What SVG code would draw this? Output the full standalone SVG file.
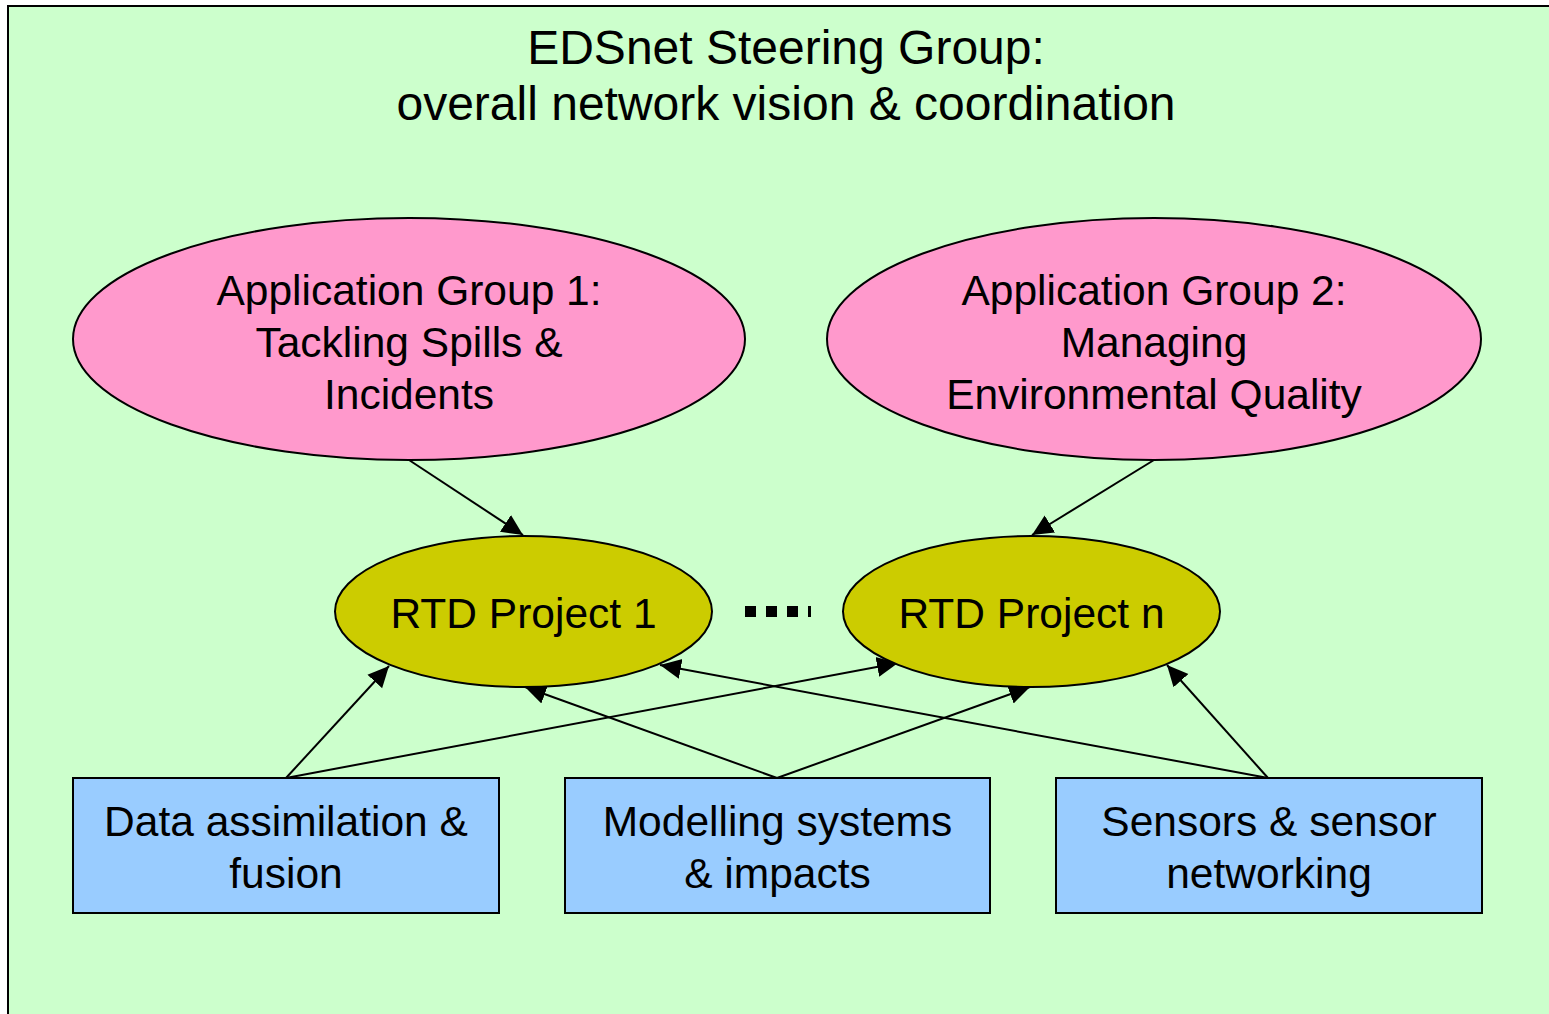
<svg xmlns="http://www.w3.org/2000/svg" width="1549" height="1014" viewBox="0 0 1549 1014">
  <defs>
    <marker id="arrow" markerUnits="userSpaceOnUse" markerWidth="22" markerHeight="22" viewBox="0 0 22 22" refX="21" refY="11" orient="auto">
      <path d="M0,1 L21,11 L0,21 Z" fill="#000"/>
    </marker>
    <style>
      .lbl { font-family: "Liberation Sans", Arial, sans-serif; fill: #000; text-anchor: middle; }
      .title { font-size: 48px; }
      .node { font-size: 42.5px; }
      .app { fill: #FF99CC; stroke: #000; stroke-width: 2; }
      .rtd { fill: #CCCC00; stroke: #000; stroke-width: 2; }
      .box { fill: #99CCFF; stroke: #000; stroke-width: 2; }
      .link { stroke: #000; stroke-width: 2; fill: none; marker-end: url(#arrow); }
    </style>
  </defs>

  <!-- steering group frame -->
  <g id="steering-group">
    <rect x="8" y="6" width="1600" height="1100" fill="#CCFFCC" stroke="#000" stroke-width="2"/>
    <text class="lbl title" x="786" y="64">EDSnet Steering Group:</text>
    <text class="lbl title" x="786" y="120">overall network vision &amp; coordination</text>
  </g>

  <!-- connectors -->
  <g id="connectors">
    <line class="link" x1="409" y1="460" x2="523" y2="535"/>
    <line class="link" x1="1154" y1="460" x2="1032" y2="535"/>
    <line class="link" x1="286" y1="778" x2="389" y2="666"/>
    <line class="link" x1="286" y1="778" x2="898" y2="663"/>
    <line class="link" x1="777" y1="778" x2="525" y2="687"/>
    <line class="link" x1="777" y1="778" x2="1030" y2="687"/>
    <line class="link" x1="1268" y1="778" x2="660" y2="665"/>
    <line class="link" x1="1268" y1="778" x2="1167" y2="665"/>
    <line x1="745" y1="611.5" x2="811" y2="611.5" stroke="#000" stroke-width="11" stroke-dasharray="11 10"/>
  </g>

  <g id="app-group-1">
    <ellipse class="app" cx="409" cy="339" rx="336" ry="121"/>
    <text class="lbl node" x="409" y="305">Application Group 1:</text>
    <text class="lbl node" x="409" y="357">Tackling Spills &amp;</text>
    <text class="lbl node" x="409" y="409">Incidents</text>
  </g>

  <g id="app-group-2">
    <ellipse class="app" cx="1154" cy="339" rx="327" ry="121"/>
    <text class="lbl node" x="1154" y="305">Application Group 2:</text>
    <text class="lbl node" x="1154" y="357">Managing</text>
    <text class="lbl node" x="1154" y="409">Environmental Quality</text>
  </g>

  <g id="rtd-project-1">
    <ellipse class="rtd" cx="523.5" cy="611.5" rx="188.5" ry="75.5"/>
    <text class="lbl node" x="523.5" y="628">RTD Project 1</text>
  </g>

  <g id="rtd-project-n">
    <ellipse class="rtd" cx="1031.5" cy="611.5" rx="188.5" ry="75.5"/>
    <text class="lbl node" x="1031.5" y="628">RTD Project n</text>
  </g>

  <g id="data-assimilation">
    <rect class="box" x="73" y="778" width="426" height="135"/>
    <text class="lbl node" x="286" y="836">Data assimilation &amp;</text>
    <text class="lbl node" x="286" y="888">fusion</text>
  </g>

  <g id="modelling-systems">
    <rect class="box" x="565" y="778" width="425" height="135"/>
    <text class="lbl node" x="777.5" y="836">Modelling systems</text>
    <text class="lbl node" x="777.5" y="888">&amp; impacts</text>
  </g>

  <g id="sensors">
    <rect class="box" x="1056" y="778" width="426" height="135"/>
    <text class="lbl node" x="1269" y="836">Sensors &amp; sensor</text>
    <text class="lbl node" x="1269" y="888">networking</text>
  </g>
</svg>
